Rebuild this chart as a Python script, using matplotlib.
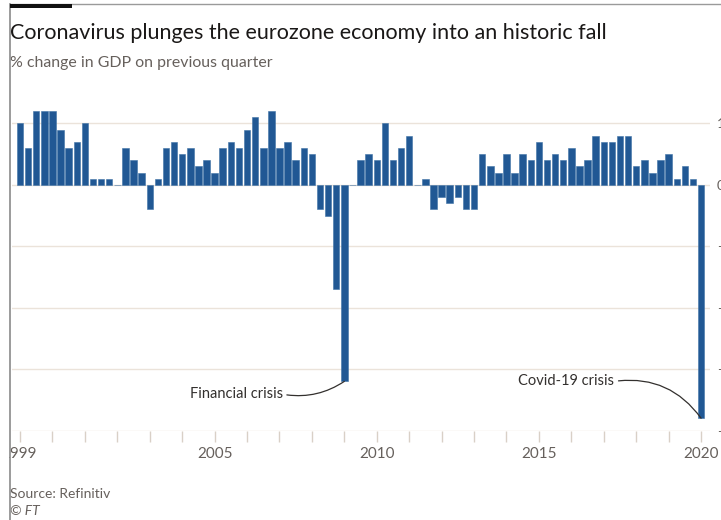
import numpy as np
import pandas as pd
import matplotlib
matplotlib.use('Agg')
import matplotlib.pyplot as plt
from matplotlib.patches import Rectangle
from matplotlib.lines import Line2D

plt.rcParams['font.family'] = ['Lato', 'DejaVu Sans']

# quarterly eurozone GDP, % change on previous quarter (1999Q1 .. 2020Q1)
quarters = [str(p) for p in pd.period_range('1999Q1', '2020Q1', freq='Q')]
gdp_change = [
    1.0, 0.6, 1.2, 1.2,   # 1999
    1.2, 0.9, 0.6, 0.7,   # 2000
    1.0, 0.1, 0.1, 0.1,   # 2001
    0.0, 0.6, 0.4, 0.2,   # 2002
    -0.4, 0.1, 0.6, 0.7,  # 2003
    0.5, 0.6, 0.3, 0.4,   # 2004
    0.2, 0.6, 0.7, 0.6,   # 2005
    0.9, 1.1, 0.6, 1.2,   # 2006
    0.6, 0.7, 0.4, 0.6,   # 2007
    0.5, -0.4, -0.5, -1.7,  # 2008
    -3.2, 0.0, 0.4, 0.5,  # 2009
    0.4, 1.0, 0.4, 0.6,   # 2010
    0.8, 0.0, 0.1, -0.4,  # 2011
    -0.2, -0.3, -0.2, -0.4,  # 2012
    -0.4, 0.5, 0.3, 0.2,  # 2013
    0.5, 0.2, 0.5, 0.4,   # 2014
    0.7, 0.4, 0.5, 0.4,   # 2015
    0.6, 0.3, 0.4, 0.8,   # 2016
    0.7, 0.7, 0.8, 0.8,   # 2017
    0.3, 0.4, 0.2, 0.4,   # 2018
    0.5, 0.1, 0.3, 0.1,   # 2019
    -3.8,                 # 2020
]
year_labels = ['1999', '2005', '2010', '2015', '2020']
y_ticks = [1, 0, -1, -2, -3, -4]

W, H = 721, 520
fig = plt.figure(figsize=(W / 100, H / 100), dpi=100)
fig.patch.set_facecolor('white')

# axes placed in pixel terms
ax_left, ax_right = 12, 710
ax_bottom, ax_top = 430.5, 98.9
ax = fig.add_axes([ax_left / W, (H - ax_bottom) / H,
                   (ax_right - ax_left) / W, (ax_bottom - ax_top) / H])

x = np.arange(len(quarters))
ax.bar(x, gdp_change, width=0.8, color='#215894', edgecolor='#3f72a6',
       linewidth=0.4, zorder=3)

ax.set_xlim(-0.99, 85.1)
ax.set_ylim(-4, 1.4)

# gridlines
ax.set_yticks(y_ticks)
ax.grid(axis='y', color='#ebe3da', linewidth=1.0, zorder=0)
ax.yaxis.tick_right()
ax.tick_params(axis='y', length=0, pad=5, labelsize=10, labelcolor='#66605c')
ax.set_yticklabels([str(t) for t in y_ticks])

# yearly ticks at each Q1
q1_pos = [i for i, q in enumerate(quarters) if q.endswith('Q1')]
ax.set_xticks(q1_pos)
ax.set_xticklabels([q[:4] if q[:4] in year_labels else '' for q in quarters if q.endswith('Q1')])
ax.tick_params(axis='x', length=8, width=1, color='#d9d0c7', pad=4,
               labelsize=11, labelcolor='#66605c')

for s in ax.spines.values():
    s.set_visible(False)

# annotations
ax.annotate('Financial crisis', xy=(40, -3.2), xytext=(32.4, -3.41),
            ha='right', va='center', fontsize=10.5, color='#33302e',
            arrowprops=dict(arrowstyle='-', color='#33302e', lw=0.9,
                            connectionstyle='arc3,rad=0.2', relpos=(1, 0.5),
                            shrinkA=1, shrinkB=0))
ax.annotate('Covid-19 crisis', xy=(84, -3.8), xytext=(73.3, -3.2),
            ha='right', va='center', fontsize=10.5, color='#33302e',
            arrowprops=dict(arrowstyle='-', color='#33302e', lw=0.9,
                            connectionstyle='arc3,rad=-0.3', relpos=(1, 0.5),
                            shrinkA=1, shrinkB=0))

# titles and footer
fig.text(10 / W, 1 - 33 / H, 'Coronavirus plunges the eurozone economy into an historic fall',
         fontsize=15.5, color='#1a1817', va='center', ha='left')
fig.text(10 / W, 1 - 63 / H, '% change in GDP on previous quarter',
         fontsize=11.4, color='#66605c', va='center', ha='left')
fig.text(10 / W, 1 - 494 / H, 'Source: Refinitiv',
         fontsize=10, color='#66605c', va='center', ha='left')
fig.text(10 / W, 1 - 511 / H, '© FT', fontsize=10, color='#66605c',
         va='center', ha='left', style='italic')

# cropped left edge and frame
fig.add_artist(Rectangle((0, 0), 9 / W, 1, transform=fig.transFigure,
                         facecolor='white', edgecolor='none', zorder=10))
fig.add_artist(Line2D([9.5 / W, 9.5 / W], [0, 1 - 4 / H], transform=fig.transFigure,
                      color='#8a8a8a', lw=1.2, zorder=11))
fig.add_artist(Line2D([9.5 / W, 1], [1 - 4 / H, 1 - 4 / H], transform=fig.transFigure,
                      color='#9a9a9a', lw=1.0, zorder=11))
fig.add_artist(Rectangle((10 / W, 1 - 8 / H), 62 / W, 4 / H, transform=fig.transFigure,
                         facecolor='#111111', edgecolor='none', zorder=12))

fig.savefig('out.png', dpi=100)
